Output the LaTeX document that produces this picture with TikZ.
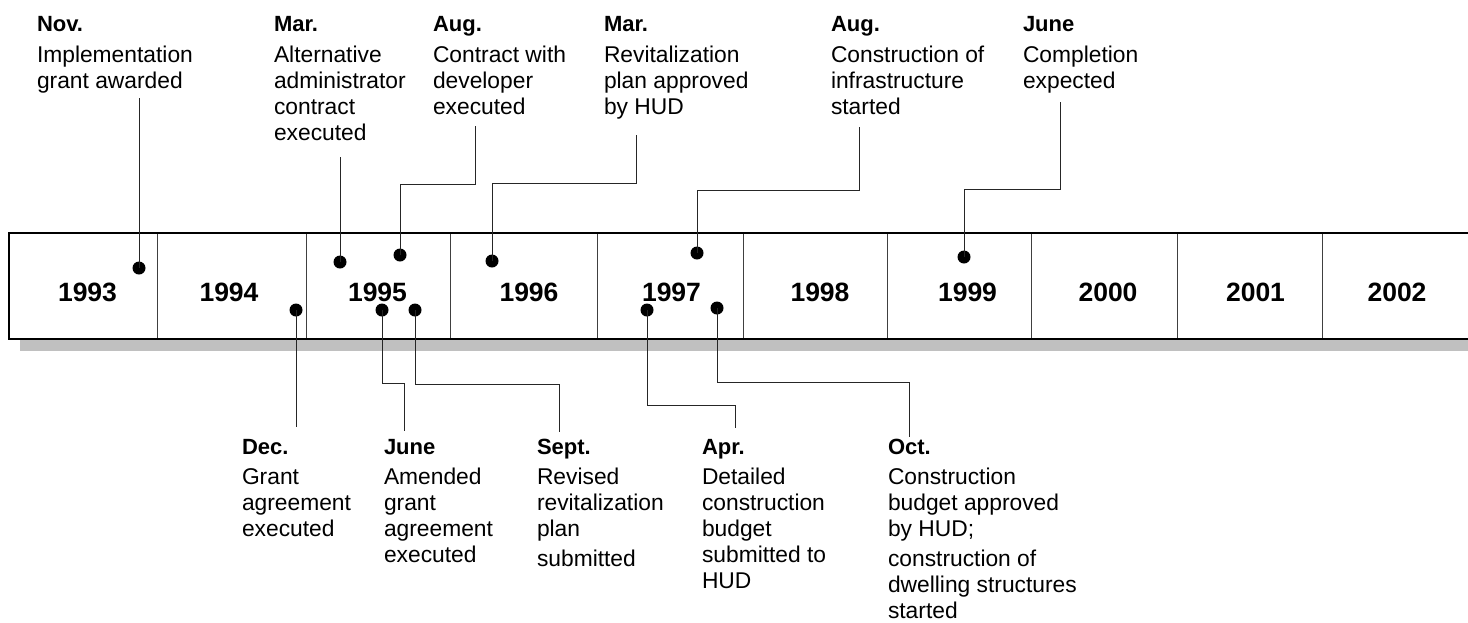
\documentclass[tikz,border=0pt]{standalone}
\usepackage{fontspec}
\setmainfont{Liberation Sans}
\definecolor{shadowgray}{HTML}{C0C0C0}
\newcommand\tlmonth[1]{{\bfseries\fontsize{22}{26}\selectfont #1}}
\begin{document}
\begin{tikzpicture}[x=1pt,y=-1pt,
  lbl/.style={anchor=north west, inner sep=0pt, outer sep=0pt, align=left, font=\fontsize{22.8}{26}\selectfont},
  yr/.style={anchor=base, inner sep=0pt, font=\fontsize{26.5}{30}\selectfont\bfseries},
  dot/.style={circle, fill=black, inner sep=0pt, minimum size=13pt},
  conn/.style={line width=1pt, draw=black!85},
  divider/.style={line width=1pt, draw=black!75}]
\useasboundingbox (0,0) rectangle (1468,622);
% shadow and bar
\fill[shadowgray] (20,339) rectangle (1468,351);
\fill[white] (9,233) rectangle (1468,339);
\foreach \x in {157,306,450,597,743,887,1031,1177,1322}
  \draw[divider] (\x,233) -- (\x,339);
\draw[line width=2pt] (1470,233) -- (9,233) -- (9,339) -- (1470,339);
% years
\node[yr] (y1993) at (87.5,301) {1993};
\node[yr] (y1994) at (229,301) {1994};
\node[yr] (y1995) at (377.5,301) {1995};
\node[yr] (y1996) at (529,301) {1996};
\node[yr] (y1997) at (671.5,301) {1997};
\node[yr] (y1998) at (820,301) {1998};
\node[yr] (y1999) at (967.5,301) {1999};
\node[yr] (y2000) at (1108,301) {2000};
\node[yr] (y2001) at (1255.5,301) {2001};
\node[yr] (y2002) at (1397,301) {2002};
% top labels
\node[lbl] (lNov93) at (37,16) {\tlmonth{Nov.}\\[5pt]Implementation\\grant awarded};
\node[lbl] (lMar95) at (274,16) {\tlmonth{Mar.}\\[5pt]Alternative\\administrator\\contract\\executed};
\node[lbl] (lAug95) at (433,16) {\tlmonth{Aug.}\\[5pt]Contract with\\developer\\executed};
\node[lbl] (lMar96) at (604,16) {\tlmonth{Mar.}\\[5pt]Revitalization\\plan approved\\by HUD};
\node[lbl] (lAug97) at (831,16) {\tlmonth{Aug.}\\[5pt]Construction of\\infrastructure\\started};
\node[lbl] (lJun99) at (1023,16) {\tlmonth{June}\\[5pt]Completion\\expected};
% bottom labels
\node[lbl] (lDec94) at (242,439) {\tlmonth{Dec.}\\[4pt]Grant\\agreement\\executed};
\node[lbl] (lJun95) at (384,439) {\tlmonth{June}\\[4pt]Amended\\grant\\agreement\\executed};
\node[lbl] (lSep95) at (537,439) {\tlmonth{Sept.}\\[4pt]Revised\\revitalization\\plan\\[4pt]submitted};
\node[lbl] (lApr97) at (702,439) {\tlmonth{Apr.}\\[4pt]Detailed\\construction\\budget\\submitted to\\HUD};
\node[lbl] (lOct97) at (888,439) {\tlmonth{Oct.}\\[4pt]Construction\\budget approved\\by HUD;\\[4pt]construction of\\dwelling structures\\started};
% connector ends
\coordinate (eNov93) at (139,98);
\coordinate (eMar95) at (340,157);
\coordinate (eAug95) at (475,126);
\coordinate (eMar96) at (636,135);
\coordinate (eAug97) at (859,127);
\coordinate (eJun99) at (1060,102);
\coordinate (eDec94) at (296,427);
\coordinate (eJun95) at (404,431);
\coordinate (eSep95) at (559,432);
\coordinate (eApr97) at (735,428);
\coordinate (eOct97) at (909,437);
% dots
\node[dot] (dNov93) at (139,268) {};
\node[dot] (dMar95) at (340,262) {};
\node[dot] (dAug95) at (400,255) {};
\node[dot] (dMar96) at (492,261) {};
\node[dot] (dAug97) at (697,253) {};
\node[dot] (dJun99) at (964,257) {};
\node[dot] (dDec94) at (296,310) {};
\node[dot] (dJun95) at (382,310) {};
\node[dot] (dSep95) at (415,310) {};
\node[dot] (dApr97) at (647,310) {};
\node[dot] (dOct97) at (717,308) {};
% connectors
\draw[conn] (dNov93.center) -- (eNov93);
\draw[conn] (dMar95.center) -- (eMar95);
\draw[conn] (dAug95.center) -- ++(0,-71) -| (eAug95);
\draw[conn] (dMar96.center) -- ++(0,-78) -| (eMar96);
\draw[conn] (dAug97.center) -- ++(0,-63) -| (eAug97);
\draw[conn] (dJun99.center) -- ++(0,-68) -| (eJun99);
\draw[conn] (dDec94.center) -- (eDec94);
\draw[conn] (dJun95.center) -- ++(0,73) -| (eJun95);
\draw[conn] (dSep95.center) -- ++(0,74) -| (eSep95);
\draw[conn] (dApr97.center) -- ++(0,95) -| (eApr97);
\draw[conn] (dOct97.center) -- ++(0,74) -| (eOct97);
\end{tikzpicture}
\end{document}
